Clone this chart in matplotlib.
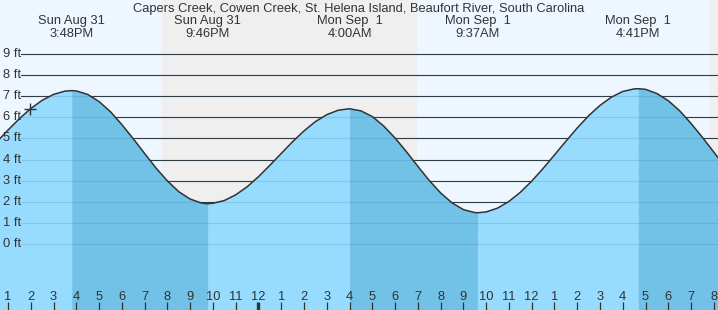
import numpy as np
import matplotlib
matplotlib.use("Agg")
import matplotlib.pyplot as plt
import matplotlib.transforms as mtrans

plt.rcParams['font.family'] = ['Liberation Sans', 'DejaVu Sans']

title = "Capers Creek, Cowen Creek, St. Helena Island, Beaufort River, South Carolina"

# hours counted from Sun Aug 31 00:00, heights in ft
tide_hours = [12.5, 13, 13.5, 14, 14.5, 15, 15.5, 15.8, 16, 16.5, 17, 17.5, 18, 18.5, 19, 19.5,
              20, 20.5, 21, 21.5, 21.767, 22, 22.5, 23, 23.5, 24, 24.5, 25, 25.5, 26, 26.5, 27,
              27.5, 28, 28.5, 29, 29.5, 30, 30.5, 31, 31.5, 32, 32.5, 33, 33.5, 33.617, 34, 34.5,
              35, 35.5, 36, 36.5, 37, 37.5, 38, 38.5, 39, 39.5, 40, 40.5, 40.683, 41, 41.5, 42,
              42.5, 43, 43.5, 44, 44.5]
tide_ft = [4.83, 5.40, 5.94, 6.42, 6.81, 7.09, 7.245, 7.27, 7.255, 7.09, 6.75, 6.27, 5.66, 4.99,
           4.29, 3.60, 2.99, 2.48, 2.13, 1.94, 1.91, 1.93, 2.06, 2.33, 2.71, 3.19, 3.73, 4.29,
           4.85, 5.36, 5.80, 6.13, 6.34, 6.41, 6.31, 6.04, 5.59, 5.02, 4.37, 3.68, 3.01, 2.42,
           1.95, 1.63, 1.49, 1.48, 1.52, 1.70, 2.02, 2.45, 2.98, 3.58, 4.22, 4.87, 5.50, 6.08,
           6.57, 6.96, 7.23, 7.35, 7.36, 7.33, 7.13, 6.79, 6.31, 5.71, 5.05, 4.35, 3.65]

ext_hours = [15.8, 21.767, 28.0, 33.617, 40.683]
ext_days = ['Sun Aug 31', 'Sun Aug 31', 'Mon Sep  1', 'Mon Sep  1', 'Mon Sep  1']
ext_times = ['3:48PM', '9:46PM', '4:00AM', '9:37AM', '4:41PM']

# falling tide spans (high -> low)
falling = [(15.8, 21.767), (28.0, 33.617), (40.683, 44.5)]
# night spans
nights = [(19.77, 30.96), (43.79, 45.0)]

now_hour = 13.97
now_ft = 6.4

ft_levels = list(range(0, 10))
tick_hours = list(range(13, 45))

W, H = 718, 310
fig = plt.figure(figsize=(W / 100, H / 100), dpi=100)
ax = fig.add_axes([0, 0, 1, 1])
ax.set_xlim(12.6487, 44.181)
ax.set_ylim(-3.128, 11.564)
ax.axis('off')

day_bg = '#eef7ff'
night_bg = '#efefef'
light = '#97dcfe'
dark = '#72c1e6'
ink = '#333333'
fs = 9.3

ax.add_patch(plt.Rectangle((0, 0), 1, 1, transform=ax.transAxes, color=day_bg, zorder=0))
for a, b in nights:
    ax.axvspan(a, b, color=night_bg, zorder=0.5, lw=0)

x0 = 21 / W
lab_tr = mtrans.blended_transform_factory(ax.transAxes, ax.transData)
for f in ft_levels:
    ax.axhline(f, xmin=x0, xmax=1, color=ink, lw=0.8, zorder=1)
    ax.text(3 / W, f, f"{f} ft", transform=lab_tr, ha='left', va='center', fontsize=fs,
            color=ink, zorder=6)

t = np.array(tide_hours)
h = np.array(tide_ft)
ax.fill_between(t, -5, h, color=light, lw=0, zorder=2)
for a, b in falling:
    m = (t >= a) & (t <= b)
    ax.fill_between(t[m], -5, h[m], color=dark, lw=0, zorder=2.1)

for f in ft_levels:
    ax.axhline(f, xmin=x0, xmax=1, color='#2a6f99', alpha=0.18, lw=0.8, zorder=3)

ax.plot(t, h, color=ink, lw=1.1, zorder=4)
ax.plot([now_hour], [now_ft], marker='+', ms=8, mew=1.0, color=ink, zorder=5)

tf = mtrans.blended_transform_factory(ax.transData, fig.transFigure)

def fy(px):
    return 1 - px / H

ax.text(0.5, fy(11.7), title, transform=fig.transFigure, ha='center', va='baseline',
        fontsize=fs, color=ink)
for x, d, s in zip(ext_hours, ext_days, ext_times):
    ax.text(x, fy(24.2), d, transform=tf, ha='center', va='baseline', fontsize=fs, color=ink)
    ax.text(x, fy(36.7), s, transform=tf, ha='center', va='baseline', fontsize=fs, color=ink)

for hr in tick_hours:
    lab = (hr - 1) % 12 + 1
    lw = 2.4 if hr % 24 == 0 else 0.9
    ax.plot([hr, hr], [fy(302), fy(310)], transform=tf, color=ink, lw=lw, zorder=6,
            solid_capstyle='butt')
    ax.text(hr, fy(300), str(lab), transform=tf, ha='center', va='baseline', fontsize=fs,
            color=ink, zorder=6)

fig.savefig('out.png', dpi=100)
